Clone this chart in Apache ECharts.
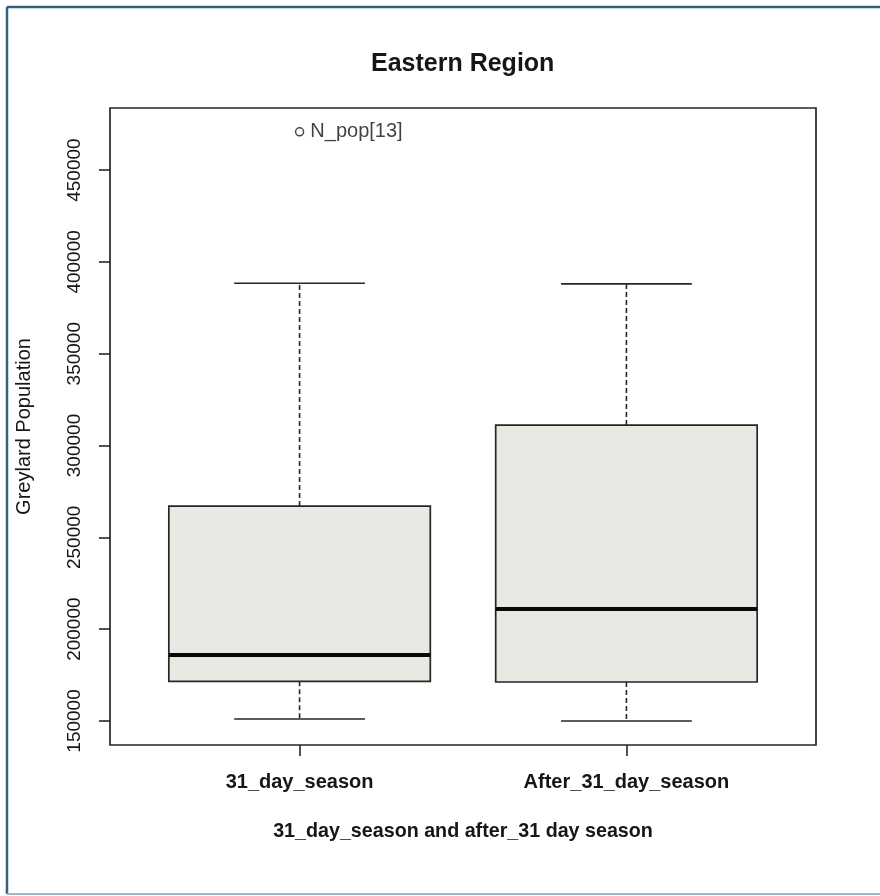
<!DOCTYPE html>
<html>
<head>
<meta charset="utf-8">
<script src="https://cdn.jsdelivr.net/npm/echarts@6/dist/echarts.min.js"></script>
<style>
  html, body { margin: 0; padding: 0; background: #ffffff; }
  #chart { width: 880px; height: 896px; }
</style>
</head>
<body>
<div id="chart"></div>
<script>
// Five-number summaries for each season group
const categories = ['31_day_season', 'After_31_day_season'];
const lowerWhisker = [151100, 150000];
const lowerHinge = [171600, 171200];
const medians = [185900, 211000];
const upperHinge = [267000, 311100];
const upperWhisker = [388400, 388000];

// Points beyond the whiskers (group index, value, label)
const outlierGroup = [0];
const outlierValues = [470800];
const outlierNames = ['N_pop[13]'];

const yTicks = [150000, 200000, 250000, 300000, 350000, 400000, 450000];

const FONT = '"Liberation Sans", Arial, Helvetica, sans-serif';
const INK = '#161616';

const boxData = categories.map((c, i) => [
  i + 1, lowerWhisker[i], lowerHinge[i], medians[i], upperHinge[i], upperWhisker[i]
]);
const outlierData = outlierValues.map((v, i) => ({
  value: [outlierGroup[i] + 1, v],
  name: outlierNames[i]
}));

function renderBox(params, api) {
  const x = api.value(0);
  const pLo = api.coord([x, api.value(1)]);
  const pQ1 = api.coord([x, api.value(2)]);
  const pMed = api.coord([x, api.value(3)]);
  const pQ3 = api.coord([x, api.value(4)]);
  const pHi = api.coord([x, api.value(5)]);
  const cx = pMed[0];
  const halfBox = api.size([0.4, 0])[0];
  const halfCap = api.size([0.2, 0])[0];
  const solid = { stroke: '#262626', lineWidth: 1.6, fill: null };
  const dashed = { stroke: '#262626', lineWidth: 1.6, lineDash: [5, 3], fill: null };
  return {
    type: 'group',
    children: [
      { type: 'line', shape: { x1: cx, y1: pQ3[1], x2: cx, y2: pHi[1] }, style: dashed },
      { type: 'line', shape: { x1: cx, y1: pQ1[1], x2: cx, y2: pLo[1] }, style: dashed },
      { type: 'line', shape: { x1: cx - halfCap, y1: pHi[1], x2: cx + halfCap, y2: pHi[1] }, style: solid },
      { type: 'line', shape: { x1: cx - halfCap, y1: pLo[1], x2: cx + halfCap, y2: pLo[1] }, style: solid },
      {
        type: 'rect',
        shape: { x: cx - halfBox, y: pQ3[1], width: halfBox * 2, height: pQ1[1] - pQ3[1] },
        style: { fill: '#eae8e2', stroke: '#262626', lineWidth: 1.7 }
      },
      {
        type: 'line',
        shape: { x1: cx - halfBox, y1: pMed[1], x2: cx + halfBox, y2: pMed[1] },
        style: { stroke: '#0a0a0a', lineWidth: 4 }
      }
    ]
  };
}

const chart = echarts.init(document.getElementById('chart'), null, { renderer: 'canvas' });

chart.setOption({
  animation: false,
  backgroundColor: '#ffffff',
  title: {
    text: 'Eastern Region',
    left: 366,
    top: 47,
    textStyle: { fontFamily: FONT, fontSize: 25, fontWeight: 'bold', color: INK }
  },
  graphic: [
    { type: 'line', shape: { x1: 7, y1: 7, x2: 880, y2: 7 }, style: { stroke: '#34607f', lineWidth: 2.5 } },
    { type: 'line', shape: { x1: 7, y1: 7, x2: 7, y2: 894 }, style: { stroke: '#34607f', lineWidth: 2.5 } },
    { type: 'line', shape: { x1: 7, y1: 894, x2: 880, y2: 894 }, style: { stroke: '#9fb7c8', lineWidth: 2 } }
  ],
  grid: {
    left: 110,
    right: 64,
    top: 108,
    bottom: 151,
    show: true,
    borderColor: '#262626',
    borderWidth: 1.7,
    backgroundColor: 'transparent'
  },
  xAxis: {
    type: 'value',
    min: 0.42,
    max: 2.58,
    axisLine: { show: false },
    splitLine: { show: false },
    axisTick: {
      show: true,
      customValues: [1, 2],
      length: 11,
      lineStyle: { color: '#262626', width: 1.6 }
    },
    axisLabel: {
      customValues: [1, 2],
      formatter: v => categories[Math.round(v) - 1],
      margin: 27,
      fontFamily: FONT,
      fontSize: 20,
      fontWeight: 'bold',
      color: INK
    },
    name: '31_day_season and after_31 day season',
    nameLocation: 'middle',
    nameGap: 77,
    nameTextStyle: { fontFamily: FONT, fontSize: 19.7, fontWeight: 'bold', color: INK }
  },
  yAxis: {
    type: 'value',
    min: 136900,
    max: 483800,
    axisLine: { show: false },
    splitLine: { show: false },
    axisTick: {
      show: true,
      customValues: yTicks,
      length: 11,
      lineStyle: { color: '#262626', width: 1.6 }
    },
    axisLabel: {
      customValues: yTicks,
      formatter: v => String(Math.round(v)),
      rotate: 90,
      margin: 26,
      fontFamily: FONT,
      fontSize: 19,
      color: INK
    },
    name: 'Greylard Population',
    nameLocation: 'middle',
    nameRotate: 90,
    nameGap: 76,
    nameTextStyle: { fontFamily: FONT, fontSize: 20, color: INK }
  },
  series: [
    {
      type: 'custom',
      name: 'box',
      renderItem: renderBox,
      data: boxData,
      z: 2
    },
    {
      type: 'scatter',
      name: 'outliers',
      data: outlierData,
      symbol: 'circle',
      symbolSize: 8,
      itemStyle: { color: '#ffffff', borderColor: '#1a1a1a', borderWidth: 1.5 },
      label: {
        show: true,
        position: 'right',
        distance: 6,
        formatter: p => p.name,
        fontFamily: FONT,
        fontSize: 20,
        color: '#111111'
      },
      z: 3
    }
  ]
});
</script>
</body>
</html>
